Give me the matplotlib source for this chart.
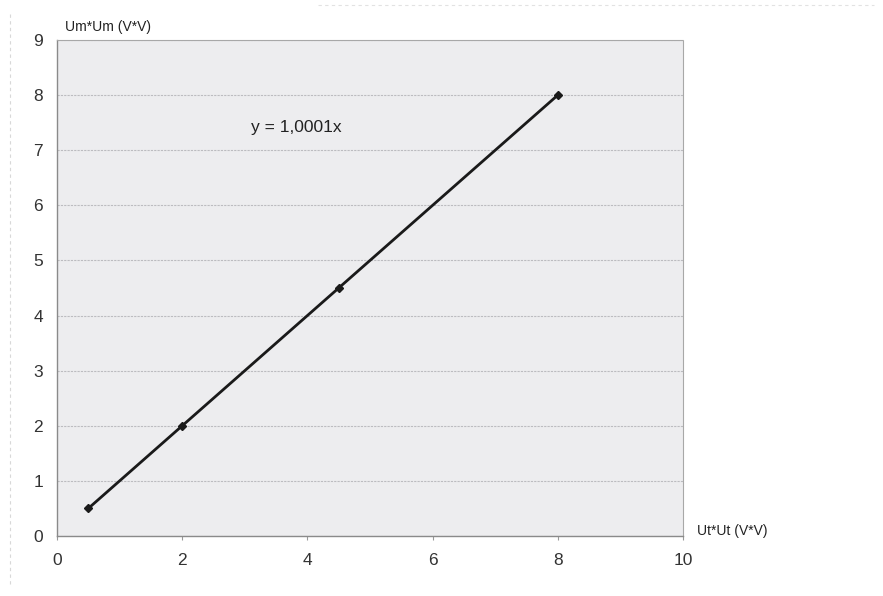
import matplotlib
matplotlib.use("Agg")
import matplotlib.pyplot as plt
from matplotlib.lines import Line2D

# Measured squared voltages
ut_sq = [0.5, 2, 4.5, 8]
um_sq = [0.5, 2, 4.5, 8]
x_ticks = [0, 2, 4, 6, 8, 10]
y_ticks = [0, 1, 2, 3, 4, 5, 6, 7, 8, 9]
fit_label = "y = 1,0001x"

plt.rcParams['font.family'] = ['Liberation Sans', 'DejaVu Sans']

fig = plt.figure(figsize=(8.83, 5.96), dpi=100)
fig.patch.set_facecolor('white')
ax = fig.add_axes([57 / 883, 1 - 536 / 596, 626 / 883, 496 / 596])
ax.set_facecolor('#ededef')

ax.set_xlim(0, 10)
ax.set_ylim(0, 9)
ax.set_xticks(x_ticks)
ax.set_yticks(y_ticks)
ax.set_xticklabels([str(v) for v in x_ticks])
ax.set_yticklabels([str(v) for v in y_ticks])
ax.tick_params(axis='both', labelsize=12.5, colors='#333333', length=3,
               width=0.8, direction='out')
ax.tick_params(axis='x', pad=9, color='#999999')
ax.tick_params(axis='y', pad=10, color='#999999', length=0)

ax.grid(axis='y', color='#bcbcc0', linewidth=0.8, linestyle=(0, (2, 1)))
ax.set_axisbelow(True)

for side in ['left', 'bottom']:
    ax.spines[side].set_color('#8a8a8a')
    ax.spines[side].set_linewidth(1.0)
for side in ['top', 'right']:
    ax.spines[side].set_color('#a8a8a8')
    ax.spines[side].set_linewidth(0.8)
    ax.spines[side].set_linestyle((0, (2, 1)))

ax.plot(ut_sq, um_sq, color='#1a1a1a', linewidth=2.0, marker='D',
        markersize=4.5, markerfacecolor='#1a1a1a', markeredgecolor='#1a1a1a')

ax.text(3.1, 7.42, fit_label, fontsize=12.5, color='#222222', va='center', ha='left')

fig.text(65 / 883, 1 - 27 / 596, "Um*Um (V*V)", fontsize=10, color='#222222',
         va='center', ha='left')
fig.text(697 / 883, 1 - 531 / 596, "Ut*Ut (V*V)", fontsize=10, color='#222222',
         va='center', ha='left')

# faint page edges
fig.add_artist(Line2D([10 / 883, 10 / 883], [0.02, 0.98], color='#d8d8d8',
                      linewidth=0.8, linestyle=(0, (3, 3))))
fig.add_artist(Line2D([0.36, 0.99], [1 - 5 / 596, 1 - 5 / 596], color='#e2e2e2',
                      linewidth=0.8, linestyle=(0, (3, 3))))

fig.savefig("out.png", dpi=100)
